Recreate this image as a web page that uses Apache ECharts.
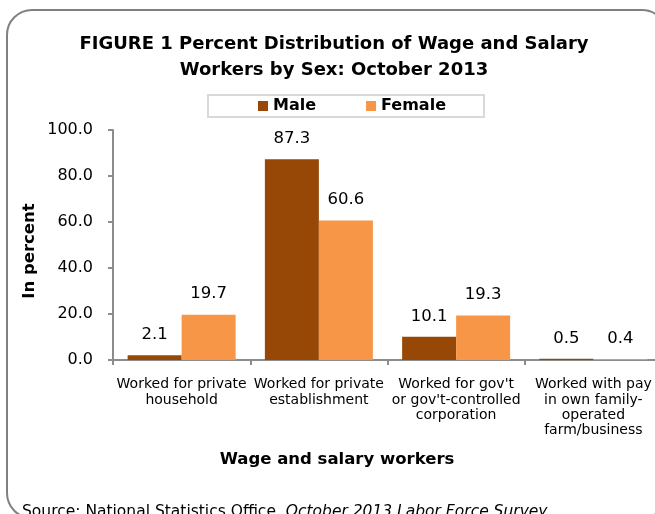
<!DOCTYPE html>
<html>
<head>
<meta charset="utf-8">
<script src="https://cdn.jsdelivr.net/npm/echarts@6/dist/echarts.min.js"></script>
<style>html,body{margin:0;padding:0;background:#fff;}#c{width:655px;height:514px;}</style>
</head>
<body>
<div id="c"></div>
<script>
const categories = [
  'Worked for private\nhousehold',
  'Worked for private\nestablishment',
  "Worked for gov't\nor gov't-controlled\ncorporation",
  'Worked with pay\nin own family-\noperated\nfarm/business'
];
const maleValues = [2.1, 87.3, 10.1, 0.5];
const femaleValues = [19.7, 60.6, 19.3, 0.4];
const yTicks = [0, 20, 40, 60, 80, 100];

const FONT = '"DejaVu Sans", sans-serif';
const chart = echarts.init(document.getElementById('c'));
chart.setOption({
  animation: false,
  textStyle: { fontFamily: FONT },
  graphic: [
    { type: 'rect', shape: { x: 7, y: 10, width: 660, height: 508, r: 25 },
      style: { fill: 'none', stroke: '#808080', lineWidth: 2 }, z: -1 },
    { type: 'text', x: 334, y: 31,
      style: { text: 'FIGURE 1 Percent Distribution of Wage and Salary\nWorkers by Sex: October 2013',
        font: 'bold 18px ' + FONT, fill: '#000', textAlign: 'center', lineHeight: 26 } },
    { type: 'text', x: 337, y: 451,
      style: { text: 'Wage and salary workers', font: 'bold 16.5px ' + FONT, fill: '#000', textAlign: 'center' } },
    { type: 'text', x: 30, y: 251, rotation: Math.PI / 2,
      style: { text: 'In percent', font: 'bold 16.5px ' + FONT, fill: '#000', textAlign: 'center', textVerticalAlign: 'middle' } },
    { type: 'text', x: 22, y: 504,
      style: { rich: { a: { font: '15.5px ' + FONT, fill: '#000' }, b: { font: 'italic 15.5px ' + FONT, fill: '#000' } },
        text: '{a|Source: National Statistics Office, }{b|October 2013 Labor Force Survey}' } }
  ],
  legend: {
    left: 208, top: 95,
    padding: [3, 38, 3, 50],
    itemGap: 50,
    itemWidth: 10, itemHeight: 10,
    borderColor: '#d9d9d9', borderWidth: 2,
    icon: 'rect',
    textStyle: { fontFamily: FONT, fontWeight: 'bold', fontSize: 16, color: '#000' },
    data: ['Male', 'Female']
  },
  grid: { left: 113, top: 130, width: 549, height: 230, outerBoundsMode: 'none', containLabel: false },
  xAxis: {
    type: 'category', data: categories,
    axisLine: { lineStyle: { color: '#8c8c8c', width: 2 } },
    axisTick: { show: true, length: 5, lineStyle: { color: '#8c8c8c', width: 2 } },
    axisLabel: { interval: 0, fontSize: 14, color: '#000', lineHeight: 15.3, margin: 17, fontFamily: FONT }
  },
  yAxis: {
    type: 'value', min: 0, max: 100, interval: 20,
    axisLine: { show: true, lineStyle: { color: '#8c8c8c', width: 2 } },
    axisTick: { show: true, length: 5, lineStyle: { color: '#8c8c8c', width: 2 } },
    splitLine: { show: false },
    axisLabel: { fontSize: 16, color: '#000', margin: 20, fontFamily: FONT,
      formatter: v => yTicks.includes(v) ? v.toFixed(1) : '' }
  },
  series: [
    { name: 'Male', type: 'bar', data: maleValues, barWidth: 54, barGap: '0%',
      itemStyle: { color: '#974706' },
      label: { show: true, position: 'top', distance: 12, fontSize: 16.5, color: '#000', fontFamily: FONT,
        formatter: p => p.value.toFixed(1) } },
    { name: 'Female', type: 'bar', data: femaleValues, barWidth: 54,
      itemStyle: { color: '#F79646' },
      label: { show: true, position: 'top', distance: 12, fontSize: 16.5, color: '#000', fontFamily: FONT,
        formatter: p => p.value.toFixed(1) } }
  ]
});
</script>
</body>
</html>
